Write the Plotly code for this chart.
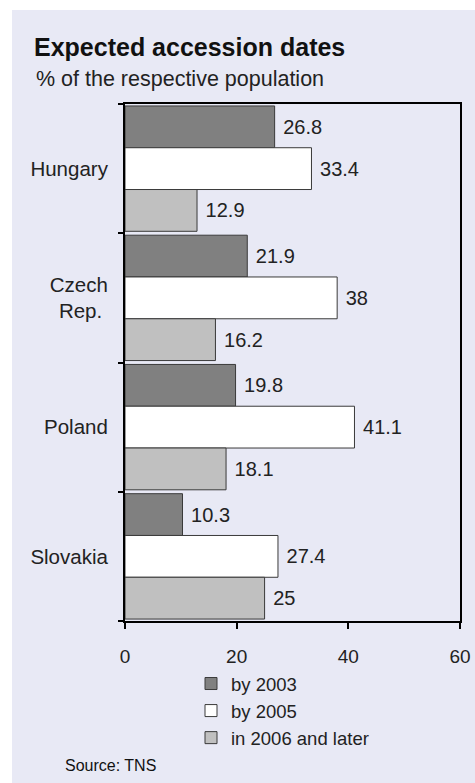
import plotly.graph_objects as go

# Dados
paises = ['Hungary', 'Czech Rep.', 'Poland', 'Slovakia']
rotulos_paises = ['Hungary', 'Czech<br>Rep.&nbsp;', 'Poland', 'Slovakia']
series = ['by 2003', 'by 2005', 'in 2006 and later']
ate_2003 = [26.8, 21.9, 19.8, 10.3]
ate_2005 = [33.4, 38, 41.1, 27.4]
depois_2006 = [12.9, 16.2, 18.1, 25]
x_ticks = [0, 20, 40, 60]

CORES = ['#808080', '#ffffff', '#c0c0c0']
FUNDO = '#e8e9f5'
FONTE = 'Liberation Sans, Arial, sans-serif'

# Geometria em pixels
W, H = 475, 783
L, R, T, B = 125, 460, 104, 621


def px_x(x):
    return (x - L) / (R - L)


def px_y(y):
    return (B - y) / (B - T)


fig = go.Figure()
for nome, valores, cor in zip(series, [ate_2003, ate_2005, depois_2006], CORES):
    fig.add_trace(go.Bar(
        name=nome,
        y=paises,
        x=valores,
        orientation='h',
        text=valores,
        texttemplate=' %{x}',
        textposition='outside',
        textfont=dict(size=20, color='#222222', family=FONTE),
        marker=dict(color=cor, line=dict(color='#3a3a3a', width=1)),
    ))

# Painel de fundo
fig.add_shape(type='rect', xref='paper', yref='paper',
              x0=px_x(12), x1=px_x(W + 5), y0=px_y(H + 5), y1=px_y(10),
              fillcolor=FUNDO, line=dict(width=0), layer='below')

fig.add_annotation(text='% of the respective population', xref='paper', yref='paper',
                   x=px_x(34), y=px_y(79), xanchor='left', yanchor='middle',
                   showarrow=False, font=dict(size=21.5, color='#222222', family=FONTE))
fig.add_annotation(text='Source: TNS', xref='paper', yref='paper',
                   x=px_x(63), y=px_y(765), xanchor='left', yanchor='middle',
                   showarrow=False, font=dict(size=16, color='#111111', family=FONTE))

fig.update_layout(
    width=W, height=H,
    paper_bgcolor='white',
    plot_bgcolor=FUNDO,
    font=dict(family=FONTE, size=20, color='#222222'),
    margin=dict(l=L, r=W - R, t=T, b=H - B, autoexpand=False),
    barmode='group',
    bargap=0.03,
    bargroupgap=0,
    title=dict(text='<b>Expected accession dates</b>', xref='container', yref='container',
               x=34 / W, y=1 - 47 / H, xanchor='left', yanchor='middle',
               font=dict(size=25, color='#111111', family=FONTE)),
    showlegend=True,
    legend=dict(xref='container', yref='container', x=191 / W, y=1 - 665 / H,
                xanchor='left', yanchor='top', traceorder='normal',
                bgcolor='rgba(0,0,0,0)', font=dict(size=18.5, color='#222222'),
                itemclick=False),
    xaxis=dict(range=[0, 60], tickvals=x_ticks, ticks='outside', ticklen=6, tickwidth=2,
               tickcolor='black', showline=True, linecolor='black', linewidth=2,
               mirror=True, showgrid=False, zeroline=False, ticklabelstandoff=11,
               tickfont=dict(size=19)),
    yaxis=dict(autorange='reversed', tickvals=paises, ticktext=rotulos_paises,
               tickson='boundaries', ticks='outside', ticklen=5, tickwidth=2,
               tickcolor='black', showline=True, linecolor='black', linewidth=2,
               mirror=True, showgrid=False, zeroline=False, ticklabelstandoff=11,
               tickfont=dict(size=20.5)),
)

# sem margem no body, para a figura ocupar a janela inteira sem barras de rolagem
fig.write_html('out.html', config={'displayModeBar': False},
               post_script="document.body.style.margin = '0';")
